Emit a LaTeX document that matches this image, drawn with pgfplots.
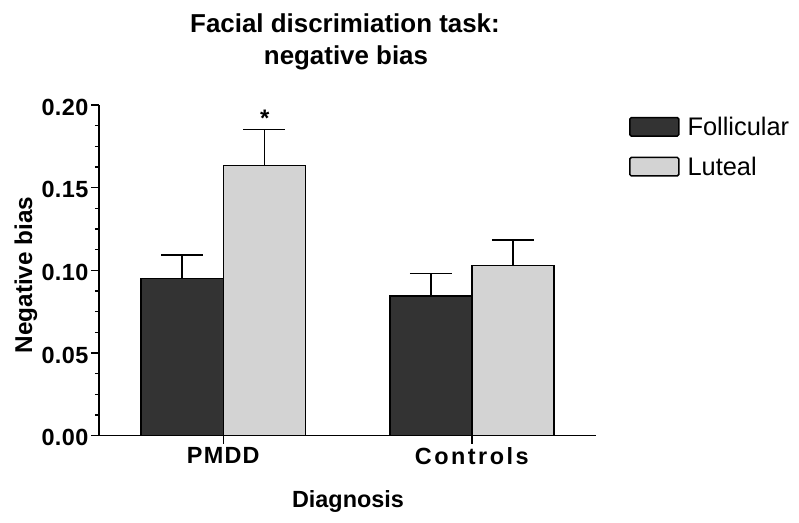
\documentclass[border=0pt]{standalone}
\usepackage{fontspec}
\setmainfont{Liberation Sans}
\usepackage{pgfplots}
\pgfplotsset{compat=1.18}
\definecolor{cFoll}{HTML}{333333}
\definecolor{cLut}{HTML}{D3D3D3}
\pgfplotsset{
    box legend/.style={legend image code/.code={\draw[##1, line width=1.5bp, rounded corners=1.5bp] (0bp,-9bp) rectangle (49bp,9.5bp);}},
}

\begin{document}
\begin{tikzpicture}[x=1bp,y=1bp]
\useasboundingbox (0,0) rectangle (799,523);
\coordinate (AX) at (99,87.3);
\begin{axis}[
    at={(AX)}, anchor=south west,
    scale only axis, width=497bp, height=330.7bp,
    xmin=-0.5, xmax=1.5, ymin=0, ymax=0.2,
    axis x line*=bottom, axis y line*=left,
    axis line style={line width=1.5bp, black},
    ybar=0pt, bar width=0.33,
    xtick={0,1},
    xticklabels={{\addfontfeatures{LetterSpace=5.5}PMDD},{\addfontfeatures{LetterSpace=10.6}Controls}},
    ytick={0,0.05,0.1,0.15,0.2}, minor y tick num=3,
    tick align=outside, major tick length=8bp, minor tick length=4bp,
    tick style={line width=1.5bp, black},
    /pgf/number format/assume math mode=true,
    xticklabel style={font=\bfseries\fontsize{23.5}{24}\selectfont},
    yticklabel style={/pgf/number format/fixed, /pgf/number format/fixed zerofill,
        /pgf/number format/precision=2,
        font=\bfseries\fontsize{23.5}{24}\selectfont\addfontfeatures{LetterSpace=2},
        yshift=-2bp, xshift=1bp},
    legend style={at={(1.066,0.97)}, anchor=north west, draw=none, fill=none,
        inner sep=0pt, row sep=16bp, font=\fontsize{25.5}{26}\selectfont,
        /tikz/every odd column/.append style={column sep=6bp}},
    legend cell align=left,
]
\addplot[fill=cFoll, draw=black, line width=1.5bp, box legend,
    error bars/.cd, y dir=plus, y explicit,
    error bar style={line width=1.5bp, black},
    error mark options={rotate=90, line width=1.5bp, black, mark size=21bp}]
    coordinates {(0,0.0952) +- (0,0.0141) (1,0.0845) +- (0,0.0135)};
\addlegendentry{Follicular}
\addplot[fill=cLut, draw=black, line width=1.5bp, box legend,
    error bars/.cd, y dir=plus, y explicit,
    error bar style={line width=1.5bp, black},
    error mark options={rotate=90, line width=1.5bp, black, mark size=21bp}]
    coordinates {(0,0.1633) +- (0,0.0220) (1,0.1028) +- (0,0.0156)};
\addlegendentry{Luteal}
\node[anchor=base, font=\bfseries\fontsize{24}{24}\selectfont] at (axis cs:0.167,0.187) {*};
\end{axis}
\node[anchor=base, font=\bfseries\fontsize{26}{26}\selectfont] at (345,490.3) {Facial discrimiation task:};
\node[anchor=base, font=\bfseries\fontsize{26}{26}\selectfont] at (346,458.7) {negative bias};
\node[anchor=base, rotate=90, font=\bfseries\fontsize{24.4}{24}\selectfont] at (32,248) {Negative bias};
\node[anchor=base, font=\bfseries\fontsize{23.5}{24}\selectfont] at (348,15) {Diagnosis};
\end{tikzpicture}
\end{document}
